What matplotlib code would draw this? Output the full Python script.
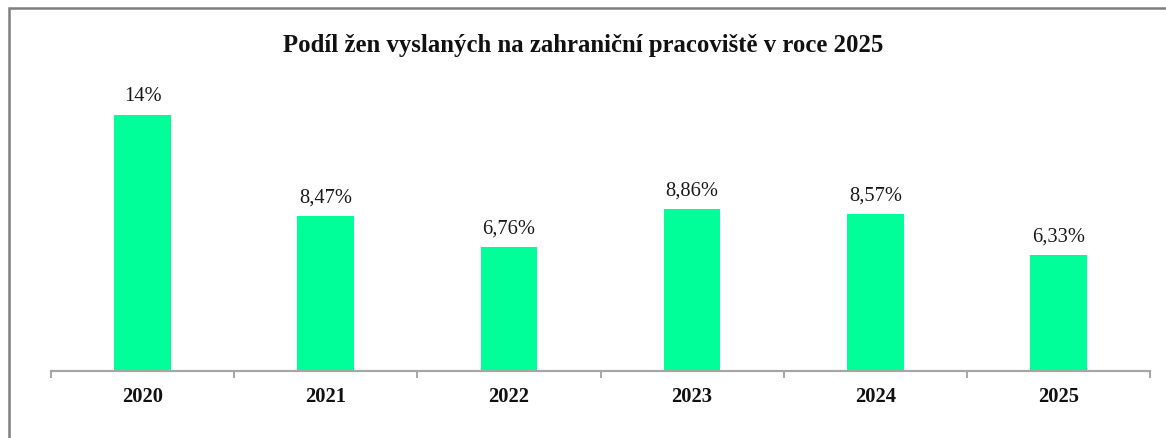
import matplotlib
matplotlib.use("Agg")
import matplotlib.pyplot as plt
from matplotlib.patches import Rectangle

years = ["2020", "2021", "2022", "2023", "2024", "2025"]
shares = [14.0, 8.47, 6.76, 8.86, 8.57, 6.33]
labels = ["14%", "8,47%", "6,76%", "8,86%", "8,57%", "6,33%"]
title = "Podíl žen vyslaných na zahraniční pracoviště v roce 2025"

W, H = 1166, 439
fig = plt.figure(figsize=(W / 100, H / 100), dpi=100)
fig.patch.set_facecolor("white")

# outer chart frame
fig.patches.append(Rectangle((9 / W, -0.05), 1.2, (H - 9) / H + 0.05,
                             transform=fig.transFigure, fill=False,
                             edgecolor="#7f7f7f", linewidth=1.8))

ax = fig.add_axes([51 / W, (H - 372) / H, (1150 - 51) / W, (372 - 79) / H])
x = list(range(len(years)))
ax.bar(x, shares, width=0.31, color="#00FF99", edgecolor="none", zorder=2)
ax.set_xlim(-0.5, len(years) - 0.5)
ax.set_ylim(0, 16)

for xi, v, lab in zip(x, shares, labels):
    ax.annotate(lab, (xi, v), xytext=(0, 10.5), textcoords="offset points",
                ha="center", va="baseline", fontsize=14.8,
                family="Liberation Serif", color="#1a1a1a")

for s in ["top", "right", "left"]:
    ax.spines[s].set_visible(False)
ax.spines["bottom"].set_color("#A6A6A6")
ax.spines["bottom"].set_linewidth(1.6)
ax.set_yticks([])

ax.set_xticks(x)
ax.set_xticklabels(years, fontsize=14.8, family="Liberation Serif",
                   fontweight="bold", color="#111111")
ax.tick_params(axis="x", which="major", length=0, pad=11)
ax.set_xticks([i - 0.5 for i in range(len(years) + 1)], minor=True)
ax.tick_params(axis="x", which="minor", length=5, width=1.4, color="#A6A6A6")

fig.text(0.5, (H - 45.5) / H, title, ha="center", va="center", fontsize=17.8,
         family="Liberation Serif", fontweight="bold", color="#111111")

fig.savefig("out.png", dpi=100, facecolor="white")
